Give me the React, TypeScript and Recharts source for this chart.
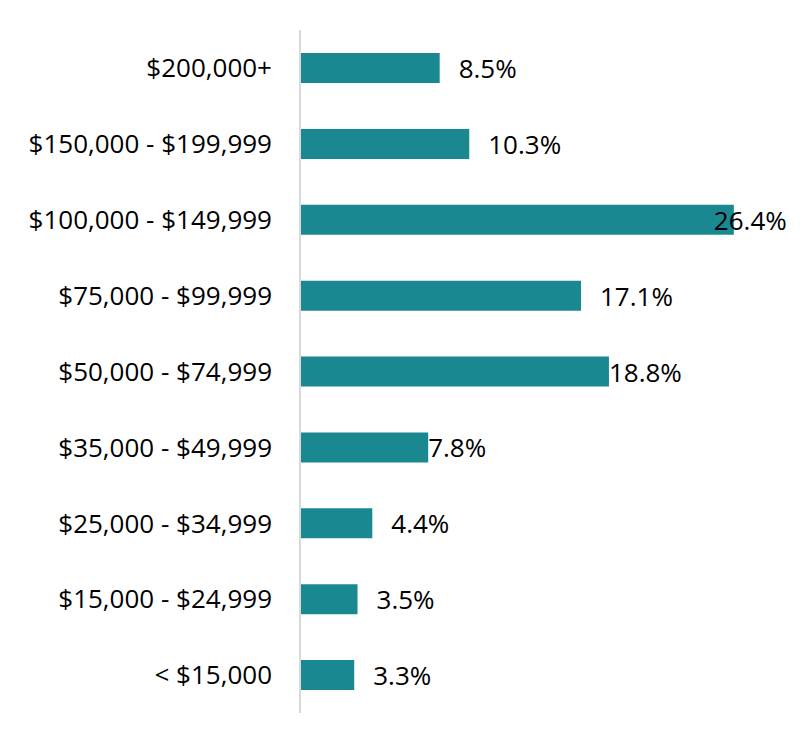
import { BarChart, Bar, XAxis, YAxis, ReferenceLine, LabelList } from 'recharts';

const incomeBands = [
  '$200,000+',
  '$150,000 - $199,999',
  '$100,000 - $149,999',
  '$75,000 - $99,999',
  '$50,000 - $74,999',
  '$35,000 - $49,999',
  '$25,000 - $34,999',
  '$15,000 - $24,999',
  '< $15,000',
];
const sharePct = [8.5, 10.3, 26.4, 17.1, 18.8, 7.8, 4.4, 3.5, 3.3];

// label nudges copied from the original layout (some labels sit on the bar end)
const labelNudge = [19, 19, -20, 19, 0, 0, 19, 19, 19];

const data = incomeBands.map((band, i) => ({ band, share: sharePct[i] }));

const FONT = '"Open Sans", "Noto Sans", sans-serif';

const ValueLabel = (props: any) => {
  const { x, y, width, height, value, index } = props;
  return (
    <text
      x={x + width + labelNudge[index]}
      y={y + height / 2}
      dominantBaseline="central"
      fontFamily={FONT}
      fontSize={26}
      fill="#000"
    >
      {`${value.toFixed(1)}%`}
    </text>
  );
};

export default function App() {
  return (
    <div style={{ width: 795, height: 727, background: '#fff' }}>
      <BarChart
        width={795}
        height={727}
        data={data}
        layout="vertical"
        margin={{ top: 22, right: 10, bottom: 22, left: 0 }}
        barCategoryGap="60%"
      >
        <XAxis type="number" domain={[0, 30]} hide />
        <YAxis
          type="category"
          dataKey="band"
          width={292}
          axisLine={false}
          tickLine={false}
          tickSize={0}
          tickMargin={28}
          interval={0}
          tick={{ fill: '#000', fontSize: 26, fontFamily: FONT }}
        />
        <Bar dataKey="share" fill="#1a8891" barSize={30} isAnimationActive={false}>
          <LabelList dataKey="share" content={<ValueLabel />} />
        </Bar>
        <ReferenceLine x={0} stroke="#d9d9d9" strokeWidth={2} />
      </BarChart>
    </div>
  );
}
